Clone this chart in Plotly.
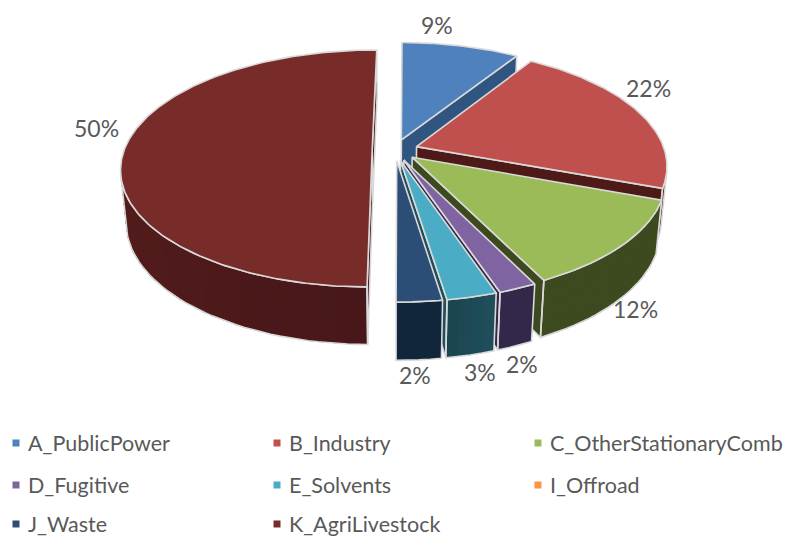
import math
import plotly.graph_objects as go

categories = ["A_PublicPower", "B_Industry", "C_OtherStationaryComb", "D_Fugitive",
              "E_Solvents", "I_Offroad", "J_Waste", "K_AgriLivestock"]
shares = [8.9, 21.6, 12.1, 2.1, 2.75, 0.0, 2.49, 50.06]
top_colors = ["#4F81BD", "#C0504D", "#9BBB59", "#8064A2", "#4BACC6", "#F79646", "#2C4D75", "#772C2A"]
wall_start = ["#2F5580", "#4D1A18", "#3D4A20", "#33284A", "#1F4F5C", "#7A4A20", "#12263B", "#48171A"]
wall_end = ["#2F5580", "#4D1A18", "#3D4A20", "#33284A", "#1C4450", "#7A4A20", "#12263B", "#64241F"]
edge_walls = ["#2F5580", "#4D1A18", "#3D4A20", "#33284A", "#1F4F5C", "#7A4A20", "#12263B", "#48171A"]
label_px = [(437, 25), (648, 88), (635, 309), (522, 364), (480, 372), None, (415, 375), (96, 128)]
legend_text_x = [28, 289, 550, 28, 289, 550, 28, 289]
legend_row_y = [443, 443, 443, 485, 485, 485, 524, 524]
OUTLINE = "#D9D9D9"
TEXT = "#595959"
FONT = "Lato"

# projection settings for the tilted pie
CX, CY, RX, RY = 395.0, 150.0, 248.0, 115.6
PERSP, DEPTH_P, DEPTH = 0.156, 0.02, 52.5
EXPLODE = 0.092
ROTATION = 0.4


def project(u, v, z):
    w = 1 + PERSP * v + DEPTH_P * z
    return CX + RX * u / w, CY + (-RY * v + DEPTH * z) / w


def signed_area(pts):
    s = 0.0
    for i in range(len(pts)):
        x0, y0 = pts[i]
        x1, y1 = pts[(i + 1) % len(pts)]
        s += x0 * y1 - x1 * y0
    return s


def hexmix(c0, c1, t):
    a = [int(c0[i:i + 2], 16) for i in (1, 3, 5)]
    b = [int(c1[i:i + 2], 16) for i in (1, 3, 5)]
    return "#%02X%02X%02X" % tuple(round(p + (q - p) * t) for p, q in zip(a, b))


fig = go.Figure()


def poly(pts, fill=None, line=None, width=1.0, close=True):
    xs = [p[0] for p in pts]
    ys = [p[1] for p in pts]
    if close:
        xs.append(xs[0])
        ys.append(ys[0])
    fig.add_trace(go.Scatter(
        x=xs, y=ys, mode="lines", showlegend=False, hoverinfo="skip",
        fill="toself" if fill else "none", fillcolor=fill,
        line=dict(color=line or fill or "rgba(0,0,0,0)", width=width, shape="linear"),
    ))


start = ROTATION
for i, share in enumerate(shares):
    sweep = share * 3.6
    if sweep == 0:
        continue
    a, b = start, start + sweep
    start = b
    mid = math.radians((a + b) / 2)
    cu, cv = EXPLODE * math.sin(mid), EXPLODE * math.cos(mid)

    def rim(t, z):
        r = math.radians(t)
        return project(cu + math.sin(r), cv + math.cos(r), z)

    apex_t, apex_b = project(cu, cv, 0), project(cu, cv, 1)
    n = max(3, int(sweep / 2))
    ts = [a + (b - a) * k / n for k in range(n + 1)]

    outlines = []
    # radial walls
    q0 = [apex_t, rim(a, 0), rim(a, 1), apex_b]
    if signed_area(q0) < 0:
        poly(q0, fill=edge_walls[i], width=0)
        outlines.append(q0)
    q1 = [apex_t, rim(b, 0), rim(b, 1), apex_b]
    if signed_area(q1) > 0:
        poly(q1, fill=edge_walls[i], width=0)
        outlines.append(q1)
    # curved outer wall, painted so each band runs under the next
    vis = [k for k in range(n)
           if signed_area([rim(ts[k], 0), rim(ts[k + 1], 0), rim(ts[k + 1], 1), rim(ts[k], 1)]) < 0]
    if vis:
        seq = ts[vis[0]:vis[-1] + 2]
        for j in range(len(seq) - 1):
            sub = seq[j:]
            band = [rim(t, 0) for t in sub] + [rim(t, 1) for t in reversed(sub)]
            poly(band, fill=hexmix(wall_start[i], wall_end[i], (vis[j] + 0.5) / n), width=0)
        outlines.append([rim(t, 0) for t in seq] + [rim(t, 1) for t in reversed(seq)])
    for o in outlines:
        poly(o, line=OUTLINE, width=1.6)
    # top face
    top = [apex_t] + [rim(a + (b - a) * k / (n * 3), 0) for k in range(n * 3 + 1)]
    poly(top, fill=top_colors[i], line=OUTLINE, width=1.6)

annotations = []
for share, pos in zip(shares, label_px):
    if pos is None:
        continue
    annotations.append(dict(x=pos[0], y=pos[1], xref="x", yref="y", text=f"{round(share)}%",
                            showarrow=False, font=dict(family=FONT, size=23, color=TEXT)))

# one single-entry legend per category so each sits in its own grid cell
legend_layout = {}
for k, (name, color, tx, ry) in enumerate(zip(categories, top_colors, legend_text_x, legend_row_y)):
    key = "legend" if k == 0 else f"legend{k + 1}"
    fig.add_trace(go.Scatter(x=[None], y=[None], mode="markers", name=name, legend=key,
                             marker=dict(symbol="square", size=7, color=color)))
    legend_layout[key] = dict(x=(tx - 40) / 787, xanchor="left", y=1 - ry / 537, yanchor="middle",
                              bgcolor="rgba(0,0,0,0)", font=dict(family=FONT, size=21.5, color=TEXT))

fig.update_layout(
    width=787, height=537, margin=dict(l=0, r=0, t=0, b=0, autoexpand=False),
    paper_bgcolor="white", plot_bgcolor="white", showlegend=True,
    xaxis=dict(range=[0, 787], visible=False, fixedrange=True),
    yaxis=dict(range=[537, 0], visible=False, fixedrange=True),
    annotations=annotations,
    **legend_layout,
)
post = """document.body.style.margin='0';document.documentElement.style.overflow='hidden';
setTimeout(function(){document.querySelectorAll('.legendsymbols path.scatterpts').forEach(function(p){
p.setAttribute('transform','translate(28,0)');});},30);"""
fig.write_html("out.html", post_script=post, config={"displayModeBar": False})
